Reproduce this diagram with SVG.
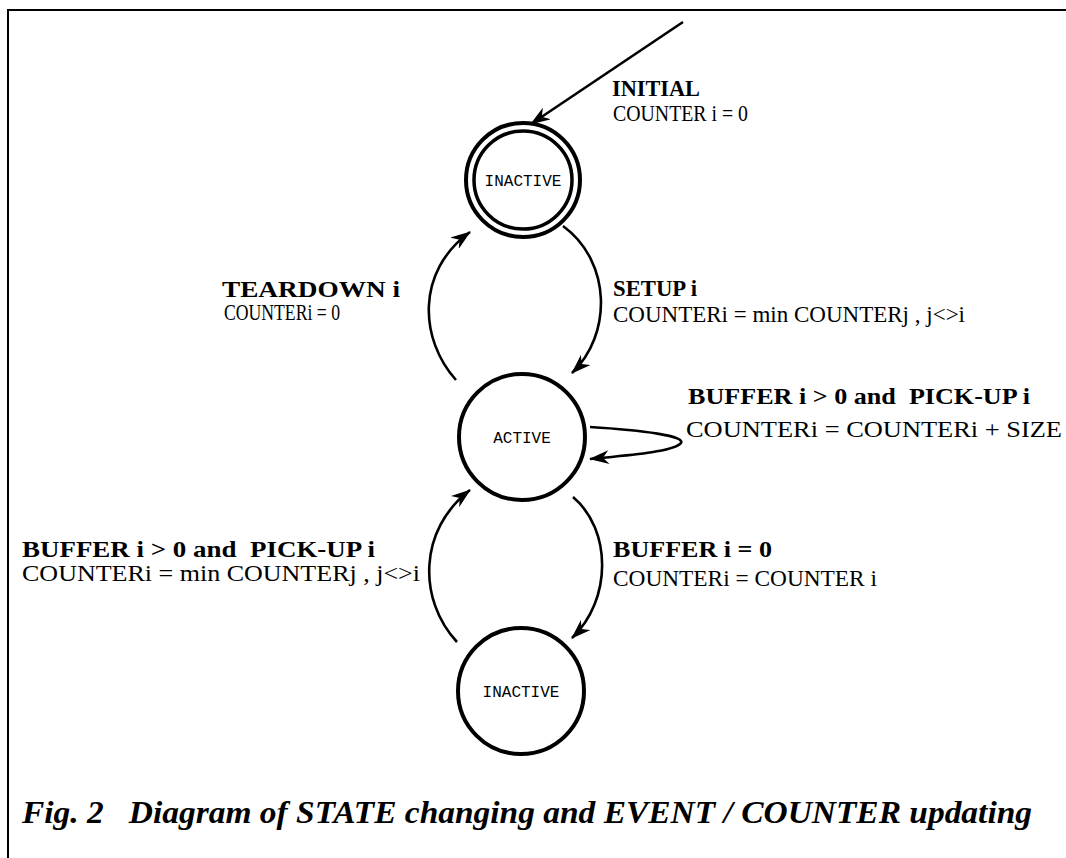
<svg xmlns="http://www.w3.org/2000/svg" width="1066" height="858" viewBox="0 0 1066 858">
<defs>
<style>
text{white-space:pre}
.st{fill:#fff;stroke:#000;stroke-width:4}
.lbl{font-family:"Liberation Mono","Courier New",monospace;font-size:16px;fill:#000;text-anchor:middle}
.ev{font-family:"Liberation Serif","Times New Roman",serif;font-weight:bold;font-size:23px;fill:#000}
.ac{font-family:"Liberation Serif","Times New Roman",serif;font-size:23px;fill:#000}
.cn{fill:none;stroke:#000;stroke-width:2.6}
.cap{font-family:"Liberation Serif","Times New Roman",serif;font-weight:bold;font-style:italic;font-size:32px;fill:#000}
</style>
<marker id="ah" viewBox="0 0 20 14" refX="19" refY="7" markerWidth="20" markerHeight="14" markerUnits="userSpaceOnUse" orient="auto">
<path d="M0,0 L20,7 L0,14 L6,7 z" fill="#000"/>
</marker>
</defs>
<rect width="1066" height="858" fill="#fff"/>
<path d="M8,858 L8,10 L1066,10" fill="none" stroke="#000" stroke-width="2"/>
<g id="connectors">
<path class="cn" d="M683,22 L531,124" marker-end="url(#ah)"/>
<path class="cn" d="M456,380 C420,340 415,272 470,232" marker-end="url(#ah)"/>
<path class="cn" d="M563,226 C612,262 612,335 572,373" marker-end="url(#ah)"/>
<path class="cn" d="M590,427 C640,430 690,436 680,444 C670,452 630,455 590,459" marker-end="url(#ah)"/>
<path class="cn" d="M573,497 C612,530 612,600 572,638" marker-end="url(#ah)"/>
<path class="cn" d="M457,642 C418,600 418,530 470,490" marker-end="url(#ah)"/>
</g>
<g id="inactive-top">
<circle class="st" cx="523" cy="180" r="57"/>
<circle fill="none" stroke="#000" stroke-width="3.5" cx="523" cy="180" r="49"/>
<text class="lbl" x="523" y="186">INACTIVE</text>
</g>
<g id="active">
<circle class="st" cx="522" cy="437" r="63"/>
<text class="lbl" x="522" y="443">ACTIVE</text>
</g>
<g id="inactive-bottom">
<circle class="st" cx="521" cy="691" r="63"/>
<text class="lbl" x="521" y="697">INACTIVE</text>
</g>
<g id="labels">
<text class="ev" x="612" y="96" textLength="88" lengthAdjust="spacingAndGlyphs">INITIAL</text>
<text class="ac" x="613" y="121" textLength="135" lengthAdjust="spacingAndGlyphs">COUNTER i = 0</text>
<text class="ev" x="222" y="297" font-size="22" textLength="178" lengthAdjust="spacingAndGlyphs">TEARDOWN i</text>
<text class="ac" x="224" y="320" font-size="22" textLength="116" lengthAdjust="spacingAndGlyphs">COUNTERi = 0</text>
<text class="ev" x="613" y="296" textLength="84" lengthAdjust="spacingAndGlyphs">SETUP i</text>
<text class="ac" x="613" y="322" textLength="352" lengthAdjust="spacingAndGlyphs">COUNTERi = min COUNTERj , j&lt;&gt;i</text>
<text class="ev" x="688" y="404" textLength="342" lengthAdjust="spacingAndGlyphs">BUFFER i &gt; 0 and  PICK-UP i</text>
<text class="ac" x="686" y="437" textLength="376" lengthAdjust="spacingAndGlyphs">COUNTERi = COUNTERi + SIZE</text>
<text class="ev" x="22" y="557" textLength="353" lengthAdjust="spacingAndGlyphs">BUFFER i &gt; 0 and  PICK-UP i</text>
<text class="ac" x="22" y="581" textLength="398" lengthAdjust="spacingAndGlyphs">COUNTERi = min COUNTERj , j&lt;&gt;i</text>
<text class="ev" x="613" y="557" textLength="159" lengthAdjust="spacingAndGlyphs">BUFFER i = 0</text>
<text class="ac" x="613" y="586" textLength="264" lengthAdjust="spacingAndGlyphs">COUNTERi = COUNTER i</text>
</g>
<text class="cap" x="22" y="823" textLength="1010" lengthAdjust="spacingAndGlyphs">Fig. 2   Diagram of STATE changing and EVENT / COUNTER updating</text>
</svg>
